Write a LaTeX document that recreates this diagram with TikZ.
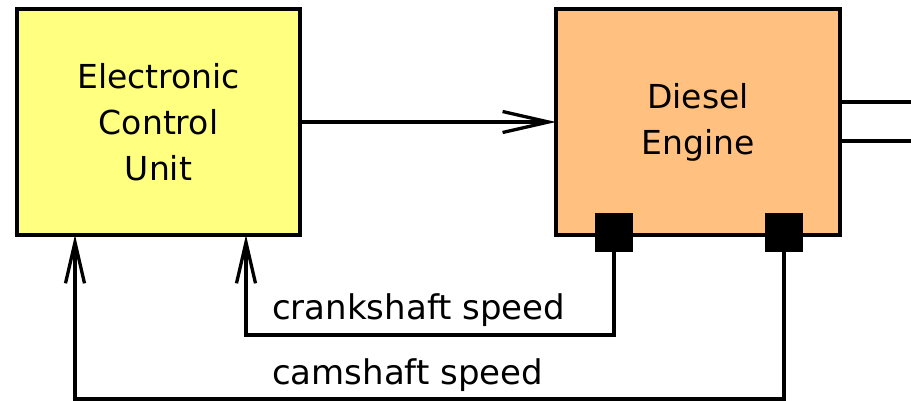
\documentclass[tikz,border=0pt]{standalone}
\usepackage{fontspec}
\setmainfont{DejaVu Sans}
\usetikzlibrary{arrows.meta}
\definecolor{ecuyellow}{HTML}{FFFF80}
\definecolor{engorange}{HTML}{FFC080}
\tikzset{
  block/.style={draw=black, line width=3.5pt, align=center, inner sep=0pt, outer sep=0pt,
    font=\fontsize{33}{46}\selectfont},
  sensorbox/.style={fill=black, draw=none, minimum size=38pt, inner sep=0pt},
  conn/.style={draw=black, line width=3.3pt},
  hbarb/.style={-{Straight Barb[length=46pt, width=21pt]}},
  vbarb/.style={-{Straight Barb[length=41pt, width=19pt]}},
  lab/.style={inner sep=0pt, anchor=base west, font=\fontsize{34}{40}\selectfont}
}
\begin{document}
\begin{tikzpicture}[x=1pt,y=-1pt]
\useasboundingbox (0,0) rectangle (911,401);
\node[block, fill=ecuyellow, minimum width=283pt, minimum height=226pt] (ecu) at (158.5,122) {Electronic\\Control\\Unit};
\node[block, fill=engorange, minimum width=284pt, minimum height=226pt] (eng) at (698,122) {Diesel\\Engine\hspace*{0pt}};
\node[sensorbox] (s1) at (614,232.5) {};
\node[sensorbox] (s2) at (784,232.5) {};
\coordinate (o1) at (911,102);
\coordinate (o2) at (911,141);
\coordinate (c1) at (246,335);
\coordinate (c2) at (75,399);
\draw[conn, hbarb] (ecu.east) -- (eng.west);
\draw[conn] (eng.east |- o1) -- (o1);
\draw[conn] (eng.east |- o2) -- (o2);
\draw[conn, vbarb] (s1.south) |- (c1) -- (ecu.south -| c1);
\draw[conn, vbarb] (s2.south) |- (c2) -- (ecu.south -| c2);
\node[lab] (lcrank) at (272,319) {crankshaft speed};
\node[lab] (lcam) at (272,384) {camshaft speed};
\end{tikzpicture}
\end{document}
